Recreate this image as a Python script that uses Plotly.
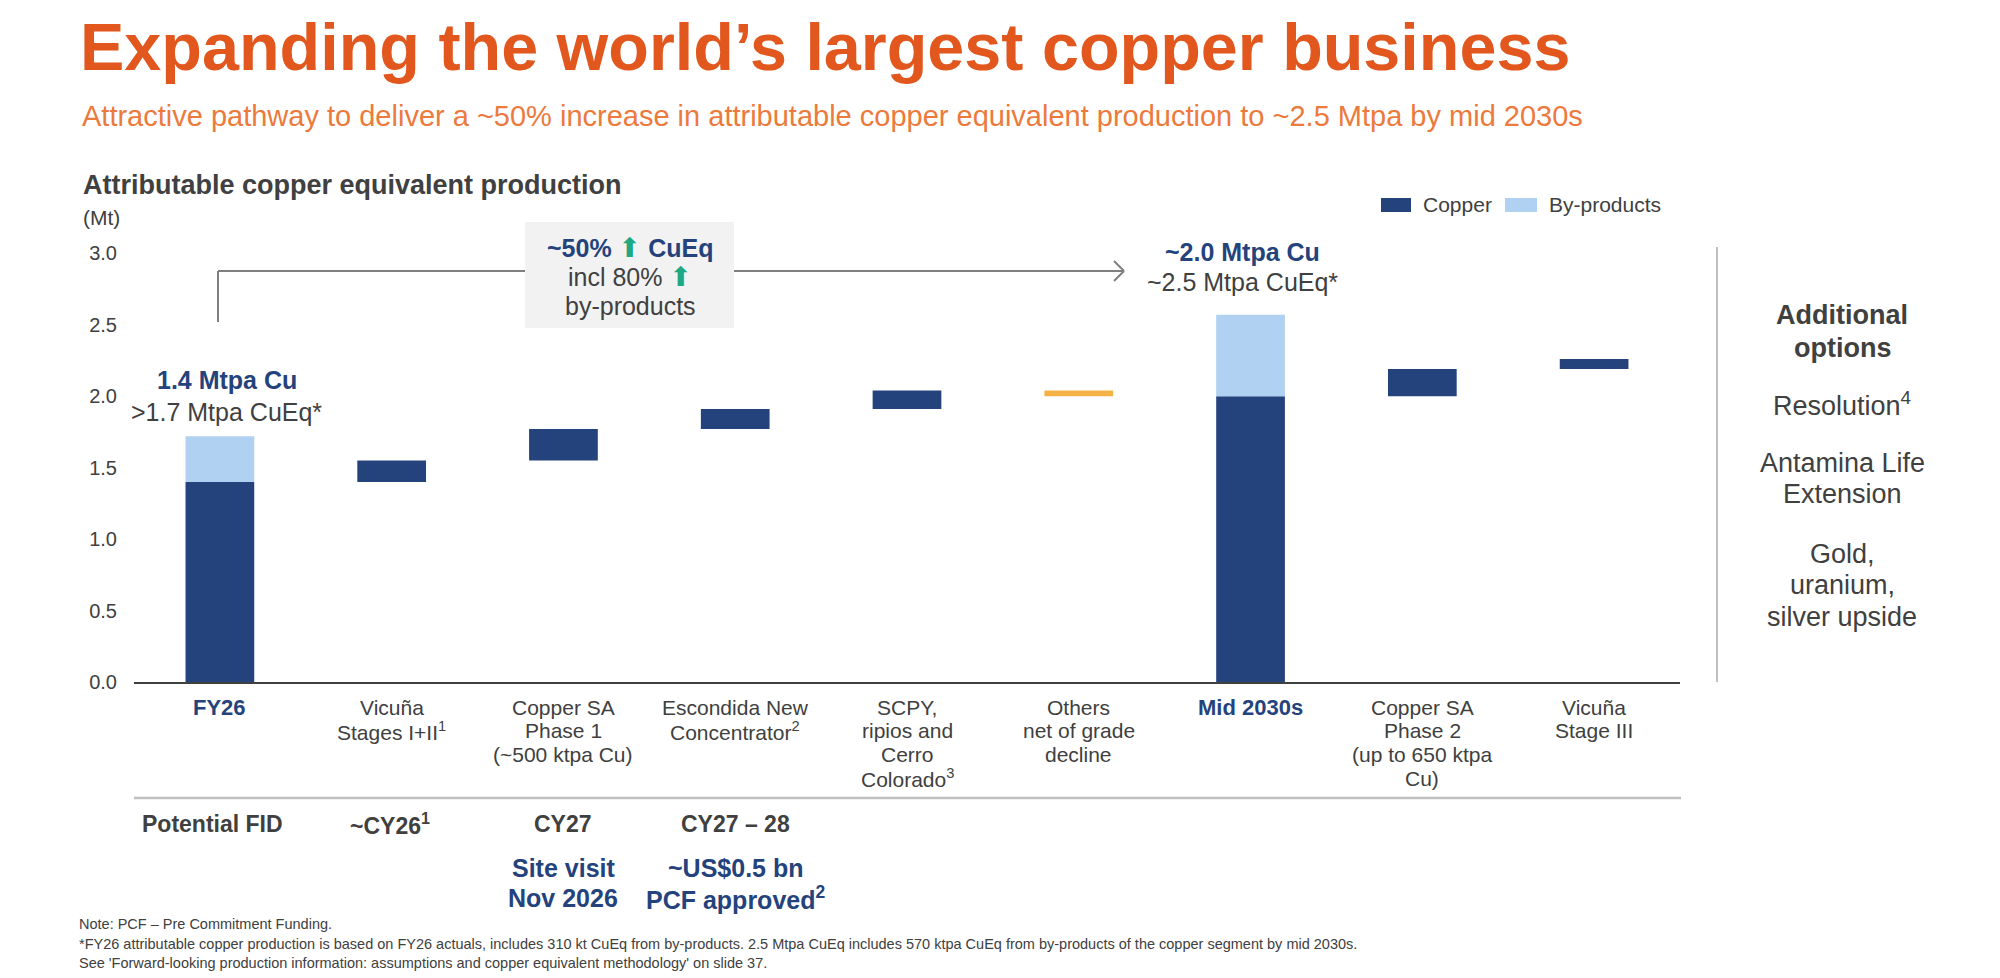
import plotly.graph_objects as go

# ---------------------------------------------------------------
# DATA  (Mt)
categories = ['FY26', 'Vicuña I+II', 'Copper SA Phase 1', 'Escondida New Concentrator',
              'SCPY', 'Others', 'Mid 2030s', 'Copper SA Phase 2', 'Vicuña Stage III']

copper_base = [0.00, 1.40, 1.55, 1.77, 1.91, None, 0.00, 2.00, 2.19]
copper_add  = [1.40, 0.15, 0.22, 0.14, 0.13, None, 2.00, 0.19, 0.07]

byprod_base = [1.40, None, None, None, None, None, 2.00, None, None]
byprod_add  = [0.32, None, None, None, None, None, 0.57, None, None]

others_base = [None, None, None, None, None, 2.00, None, None, None]
others_add  = [None, None, None, None, None, 0.04, None, None, None]

tick_labels = ['<b>FY26</b>',
               'Vicuña<br>Stages I+II<sup>1</sup>',
               'Copper SA<br>Phase 1<br>(~500 ktpa Cu)',
               'Escondida New<br>Concentrator<sup>2</sup>',
               'SCPY,<br>ripios and<br>Cerro<br>Colorado<sup>3</sup>',
               'Others<br>net of grade<br>decline',
               '<b>Mid 2030s</b>',
               'Copper SA<br>Phase 2<br>(up to 650 ktpa<br>Cu)',
               'Vicuña<br>Stage III']

fid_labels = ['Potential FID', '~CY26<sup>1</sup>', 'CY27', 'CY27 – 28']
fid_notes  = [None, None, 'Site visit<br>Nov 2026', '~US$0.5 bn<br>PCF approved<sup>2</sup>']

y_ticks = [0.0, 0.5, 1.0, 1.5, 2.0, 2.5, 3.0]

options_text = ['<b>Additional</b>', '<b>options</b>', 'Resolution<sup>4</sup>',
                'Antamina Life', 'Extension', 'Gold,', 'uranium,', 'silver upside']

footnotes = ["Note: PCF – Pre Commitment Funding.",
             "*FY26 attributable copper production is based on FY26 actuals, includes 310 kt CuEq from by-products. "
             "2.5 Mtpa CuEq includes 570 ktpa CuEq from by-products of the copper segment by mid 2030s.",
             "See 'Forward-looking production information: assumptions and copper equivalent methodology' on slide 37."]
# ---------------------------------------------------------------

NAVY   = '#24437C'
LBLUE  = '#B0D1F2'
YELLOW = '#F4B146'
GREEN  = '#1EA984'
GREY   = '#404040'
LGREY  = '#BFBFBF'
FONT   = 'Arial, Liberation Sans, sans-serif'

# page body has an 8px margin, so the figure is drawn 8px smaller and shifted
OFF = 8
W, H = 2000 - OFF, 978 - OFF
ML, MR, MT, MB = 134 - OFF, 320, 200 - OFF, 296
PW = W - ML - MR
PH = H - MT - MB
PX_PER_MT = 142.9


def px(x):
    return (x - OFF - ML) / PW


def py(y):
    return (H - MB - (y - OFF)) / PH


fig = go.Figure()

fig.add_trace(go.Bar(x=categories, y=copper_add, base=copper_base, width=0.4,
                     marker=dict(color=NAVY, line=dict(width=0)), name='Copper', showlegend=False))
fig.add_trace(go.Bar(x=categories, y=byprod_add, base=byprod_base, width=0.4,
                     marker=dict(color=LBLUE, line=dict(width=0)), name='By-products', showlegend=False))
fig.add_trace(go.Bar(x=categories, y=others_add, base=others_base, width=0.4,
                     marker=dict(color=YELLOW, line=dict(width=0)), name='Others', showlegend=False))


def txt(x, y, text, size, color=GREY, anchor='center', xref='paper', xshift=0):
    fig.add_annotation(x=x, y=y, xref=xref, yref='paper', text=text, showarrow=False,
                       xanchor=anchor, yanchor='middle', xshift=xshift,
                       font=dict(family=FONT, size=size, color=color))


# headings
txt(px(78), py(47), '<b>Expanding the world’s largest copper business</b>', 66.5, '#E2571E', 'left')
txt(px(80), py(116), 'Attractive pathway to deliver a ~50% increase in attributable copper equivalent '
                     'production to ~2.5 Mtpa by mid 2030s', 29, '#EC7A3C', 'left')
txt(px(81), py(185), '<b>Attributable copper equivalent production</b>', 27, GREY, 'left')
txt(px(81), py(217), '(Mt)', 21, GREY, 'left')

# legend
for x0, x1, col, label in [(1381, 1411, NAVY, 'Copper'), (1505, 1537, LBLUE, 'By-products')]:
    fig.add_shape(type='rect', xref='paper', yref='paper', x0=px(x0), x1=px(x1), y0=py(212), y1=py(198),
                  fillcolor=col, line=dict(width=0))
    txt(px(x1 + 10), py(205), label, 21, GREY, 'left')

# category labels under the axis
for cat, label in zip(categories, tick_labels):
    bold = label.startswith('<b>')
    for j, line in enumerate(label.split('<br>')):
        txt(cat, py(707 + j * 23.7), line, 22 if bold else 21, NAVY if bold else GREY, xref='x')

# separator + FID row
fig.add_shape(type='line', xref='paper', yref='paper', x0=0, x1=px(1681), y0=py(798), y1=py(798),
              line=dict(color=LGREY, width=2.5))
for i, label in enumerate(fid_labels):
    txt(categories[i], py(824), '<b>' + label + '</b>', 23, GREY, xref='x', xshift=-7 if i == 0 else -2 if i == 1 else 0)
    if fid_notes[i]:
        for j, line in enumerate(fid_notes[i].split('<br>')):
            txt(categories[i], py(868 + j * 30), '<b>' + line + '</b>', 25, NAVY, xref='x')

# totals
txt(px(227), py(380), '<b>1.4 Mtpa Cu</b>', 25, NAVY)
txt(px(226), py(412), '>1.7 Mtpa CuEq*', 25, GREY)
txt(px(1242), py(252), '<b>~2.0 Mtpa Cu</b>', 25, NAVY)
txt(px(1242), py(282), '~2.5 Mtpa CuEq*', 25, GREY)

# bracket with growth box
arrow = '<span style="color:%s;font-family:DejaVu Sans;font-size:27px">⬆</span>' % GREEN
line_style = dict(color='#7F7F7F', width=2)
fig.add_shape(type='line', xref='paper', yref='paper', x0=px(218), x1=px(218), y0=py(322), y1=py(271), line=line_style)
fig.add_shape(type='line', xref='paper', yref='paper', x0=px(218), x1=px(525), y0=py(271), y1=py(271), line=line_style)
fig.add_shape(type='line', xref='paper', yref='paper', x0=px(734), x1=px(1124), y0=py(271), y1=py(271), line=line_style)
fig.add_shape(type='line', xref='paper', yref='paper', x0=px(1114), x1=px(1124), y0=py(261), y1=py(271), line=line_style)
fig.add_shape(type='line', xref='paper', yref='paper', x0=px(1114), x1=px(1124), y0=py(281), y1=py(271), line=line_style)
fig.add_shape(type='rect', xref='paper', yref='paper', x0=px(525), x1=px(734), y0=py(328), y1=py(222),
              fillcolor='#F2F2F2', line=dict(width=0))
txt(px(630), py(247), '<b>~50%</b> ' + arrow + ' <b>CuEq</b>', 25, NAVY)
txt(px(630), py(276), 'incl 80% ' + arrow, 25, GREY)
txt(px(630), py(306), 'by-products', 25, GREY)

# additional options column
fig.add_shape(type='line', xref='paper', yref='paper', x0=px(1717), x1=px(1717), y0=py(682), y1=py(247),
              line=dict(color=LGREY, width=2))
for text, y in zip(options_text, [315, 348, 404, 463, 494, 554, 585, 617]):
    txt(px(1842), py(y), text, 27, GREY)

# footnotes
for note, y in zip(footnotes, [924, 944, 963]):
    txt(px(77), py(y), note, 14.5, GREY, 'left')

fig.update_layout(
    width=W, height=H,
    margin=dict(l=ML, r=MR, t=MT, b=MB),
    barmode='overlay',
    plot_bgcolor='white',
    paper_bgcolor='white',
    font=dict(family=FONT, color=GREY, size=20),
    showlegend=False,
)
fig.update_xaxes(
    type='category',
    categoryorder='array', categoryarray=categories,
    range=[-0.5, 8.5],
    showticklabels=False,
    showgrid=False,
    showline=True, linecolor='#404040', linewidth=2,
    ticks='',
    fixedrange=True,
)
fig.update_yaxes(
    range=[0, PH / PX_PER_MT],
    tickvals=y_ticks,
    tickformat='.1f',
    showgrid=False, zeroline=False, showline=False,
    ticks='',
    ticklabelstandoff=16,
    tickfont=dict(size=20, color=GREY, family=FONT),
    fixedrange=True,
)

fig.write_html("out.html")
